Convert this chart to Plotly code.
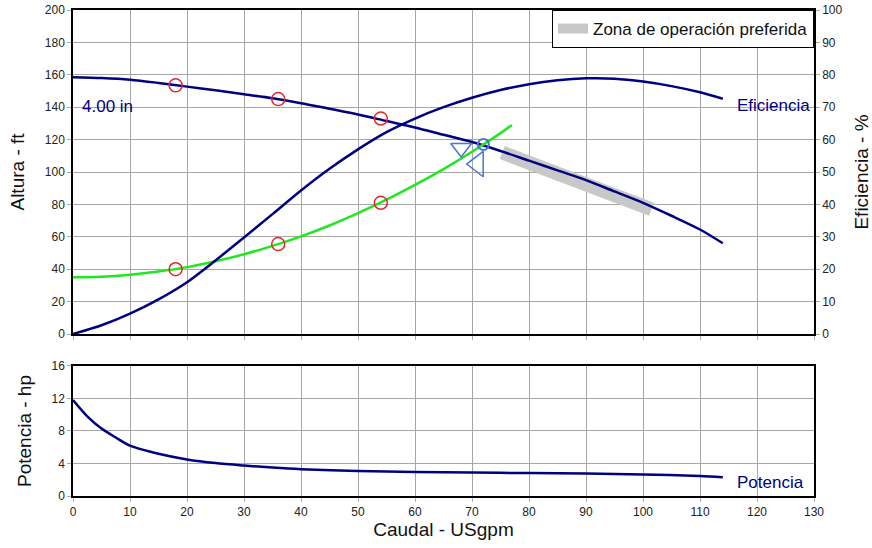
import plotly.graph_objects as go

# ---- data ----
flow = [0, 5, 10, 15, 20, 25, 30, 35, 40, 45, 50, 55, 60, 65, 70, 75, 80, 85, 90, 95, 100, 105, 110, 114]
head = [158.5, 158, 157, 155, 152.7, 150.5, 148, 145.5, 142.5, 139, 135.5, 131.5, 127.5, 123, 118.5, 113,
        107, 101, 95, 88, 81, 73, 64.5, 56]
efficiency = [0, 2.7, 6.3, 10.7, 16, 22.7, 29.8, 37, 44.3, 51, 57, 62.3, 66.5, 70, 72.9, 75.3,
              77.1, 78.3, 78.9, 78.8, 77.9, 76.5, 74.6, 72.6]

sys_flow = [0, 5, 10, 15, 20, 25, 30, 35, 40, 45, 50, 55, 60, 65, 70, 75, 77]
sys_head = [35, 35.4, 36.6, 38.6, 41.3, 44.9, 49.2, 54.4, 60.3, 67, 74.6, 82.9, 92, 101.8, 112.5, 124, 129]

pow_flow = [0, 2.5, 5, 7.5, 10, 15, 20, 25, 30, 35, 40, 50, 60, 70, 80, 90, 100, 110, 114]
power = [11.8, 9.8, 8.3, 7.2, 6.2, 5.2, 4.5, 4.05, 3.75, 3.5, 3.3, 3.07, 2.95, 2.88, 2.82, 2.76, 2.66, 2.46, 2.3]

zone_flow = [75.3, 80, 85, 90, 95, 101.5]
zone_head = [112, 106, 100, 93.5, 86.5, 77]

pts_flow = [18, 36, 54]
pts_head = [153.5, 145, 133]
pts_sys = [40, 55.5, 81]

op_flow = [72]
op_head = [117]

tri_down = ([68.1], [114.8])
tri_left = ([71.0], [104.9])

x_ticks = list(range(0, 131, 10))

NAVY = "#000080"
GREEN = "#22e622"
RED = "#e8262a"
BLUE = "#4a78c8"
GRID = "#a6a6a6"
FONT = "Arial, Liberation Sans, sans-serif"

fig = go.Figure()

fig.add_trace(go.Scatter(x=zone_flow, y=zone_head, mode="lines", line=dict(color="#c8c8c8", width=14),
                         name="Zona de operación preferida", showlegend=True, xaxis="x", yaxis="y"))
fig.add_trace(go.Scatter(x=flow, y=head, mode="lines", line=dict(color=NAVY, width=2.5, shape="spline", smoothing=0.8),
                         showlegend=False, xaxis="x", yaxis="y"))
fig.add_trace(go.Scatter(x=sys_flow, y=sys_head, mode="lines", line=dict(color=GREEN, width=2.5, shape="spline", smoothing=0.8),
                         showlegend=False, xaxis="x", yaxis="y"))
fig.add_trace(go.Scatter(x=flow, y=efficiency, mode="lines", line=dict(color=NAVY, width=2.5, shape="spline", smoothing=0.8),
                         showlegend=False, xaxis="x", yaxis="y2"))
fig.add_trace(go.Scatter(x=pts_flow + pts_flow, y=pts_head + pts_sys, mode="markers",
                         marker=dict(symbol="circle-open", size=13, color=RED, line=dict(width=1.5)),
                         showlegend=False, xaxis="x", yaxis="y"))
fig.add_trace(go.Scatter(x=tri_down[0], y=tri_down[1], mode="markers",
                         marker=dict(symbol="triangle-down-open", size=18, color=BLUE, line=dict(width=1.5)),
                         showlegend=False, xaxis="x", yaxis="y"))
fig.add_trace(go.Scatter(x=tri_left[0], y=tri_left[1], mode="markers",
                         marker=dict(symbol="triangle-left-open", size=22, color=BLUE, line=dict(width=1.5)),
                         showlegend=False, xaxis="x", yaxis="y"))
fig.add_trace(go.Scatter(x=op_flow, y=op_head, mode="markers",
                         marker=dict(symbol="circle-open", size=11, color=BLUE, line=dict(width=2)),
                         showlegend=False, xaxis="x", yaxis="y"))
fig.add_trace(go.Scatter(x=pow_flow, y=power, mode="lines", line=dict(color=NAVY, width=2.5, shape="spline", smoothing=0.8),
                         showlegend=False, xaxis="x2", yaxis="y3"))

axis_common = dict(showline=True, linecolor="black", linewidth=1.5, gridcolor=GRID, gridwidth=1,
                   ticks="outside", ticklen=4, tickcolor="#aaaaaa", zeroline=False, automargin=False,
                   tickfont=dict(size=12, color="#222", family=FONT))

fig.update_layout(
    width=872, height=548,
    margin=dict(l=73, r=58, t=10, b=52),
    paper_bgcolor="white", plot_bgcolor="white",
    font=dict(family=FONT, color="#111"),
    xaxis=dict(domain=[0, 1], anchor="y", range=[0, 130], tickvals=x_ticks, showticklabels=False,
               mirror=True, **axis_common),
    yaxis=dict(domain=[0.3333, 1], anchor="x", range=[0, 200], dtick=20, mirror=True,
               title=dict(text="Altura - ft", font=dict(size=19, family=FONT)), **axis_common),
    yaxis2=dict(overlaying="y", side="right", anchor="x", range=[0, 100], dtick=10, showgrid=False,
                title=dict(text="Eficiencia - %", font=dict(size=19, family=FONT)), **axis_common),
    xaxis2=dict(domain=[0, 1], anchor="y3", range=[0, 130], tickvals=x_ticks, mirror=True,
                title=dict(text="Caudal - USgpm", font=dict(size=19, family=FONT), standoff=4), **axis_common),
    yaxis3=dict(domain=[0, 0.2675], anchor="x2", range=[0, 16], dtick=4, mirror=True,
                title=dict(text="Potencia - hp", font=dict(size=19, family=FONT)), **axis_common),
    legend=dict(x=1, xanchor="right", y=1, yanchor="top", bgcolor="white", bordercolor="black",
                borderwidth=1, itemwidth=30, font=dict(size=17, family=FONT, color="#111")),
    annotations=[
        dict(x=1.2, y=140.7, xref="x", yref="y", text="4.00 in", showarrow=False, xanchor="left",
             font=dict(size=17, color=NAVY, family=FONT)),
        dict(x=116.1, y=70.4, xref="x", yref="y2", text="Eficiencia", showarrow=False, xanchor="left",
             font=dict(size=17, color=NAVY, family=FONT)),
        dict(x=116.1, y=1.6, xref="x2", yref="y3", text="Potencia", showarrow=False, xanchor="left",
             font=dict(size=17, color=NAVY, family=FONT)),
    ],
)

fig.write_html("out.html", config={"displayModeBar": False},
               post_script="document.body.style.margin='0';")
